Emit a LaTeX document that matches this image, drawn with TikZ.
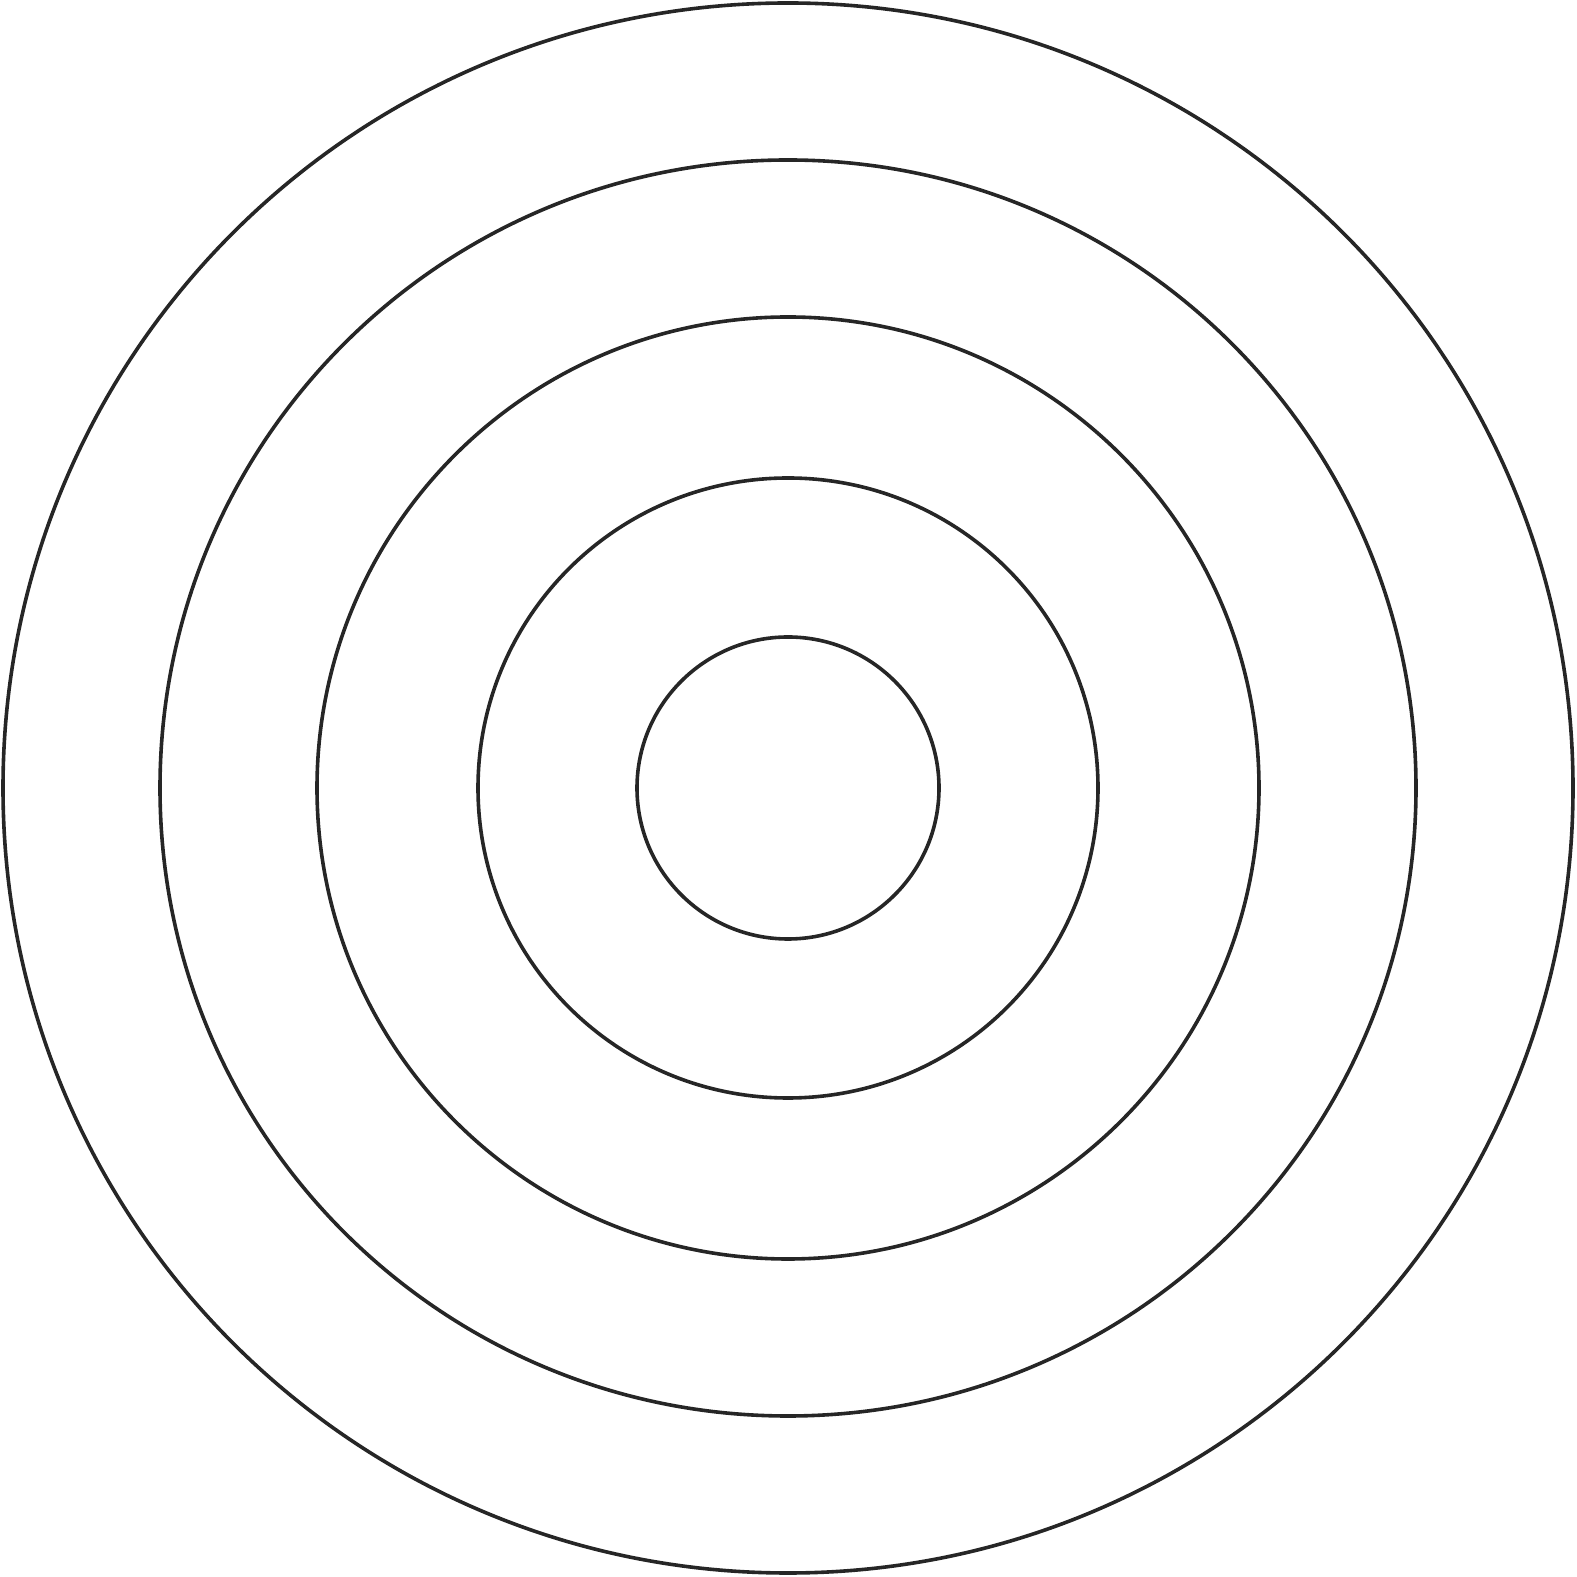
\documentclass[tikz,border=0pt]{standalone}
\definecolor{ring}{HTML}{262626}
\begin{document}
\begin{tikzpicture}[x=1pt,y=1pt,ringline/.style={draw=ring,line width=3.6pt}]
\useasboundingbox (0,0) rectangle (1577,1577);
\coordinate (c) at (788,789);
\draw[ringline] (c) circle[radius=785];
\draw[ringline] (c) circle[radius=628];
\draw[ringline] (c) circle[radius=471];
\draw[ringline] (c) circle[radius=310];
\draw[ringline] (c) circle[radius=151];
\end{tikzpicture}
\end{document}
